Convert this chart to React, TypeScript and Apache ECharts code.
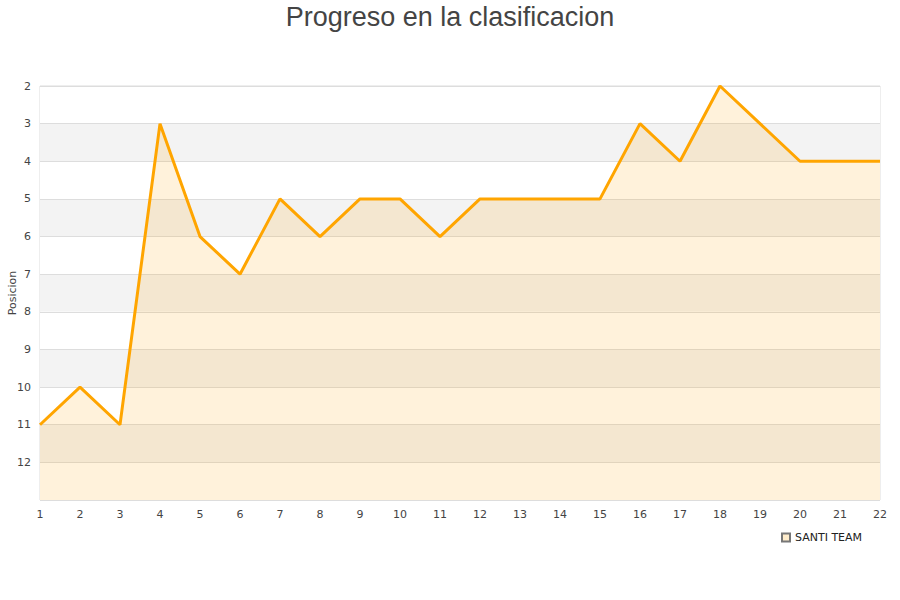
import React, { useEffect, useRef } from "react";
import * as echarts from "echarts";

const jornadas = ["1","2","3","4","5","6","7","8","9","10","11","12","13","14","15","16","17","18","19","20","21","22"];
const posiciones = [11, 10, 11, 3, 6, 7, 5, 6, 5, 5, 6, 5, 5, 5, 5, 3, 4, 2, 3, 4, 4, 4];
const teamName = "SANTI TEAM";
const titleText = "Progreso en la clasificacion";
const yName = "Posicion";

export default function App() {
  const ref = useRef<HTMLDivElement>(null);
  useEffect(() => {
    if (!ref.current) return;
    const chart = echarts.init(ref.current, null, { renderer: "svg" });
    chart.setOption({
      animation: false,
      backgroundColor: "#ffffff",
      title: {
        text: titleText,
        left: "center",
        top: -2,
        textStyle: { fontFamily: "Liberation Sans", fontSize: 27, fontWeight: "normal", color: "#444444" },
      },
      legend: {
        data: [{ name: teamName, icon: "rect" }],
        left: 776,
        top: 527,
        itemWidth: 8,
        itemHeight: 8,
        itemGap: 6,
        textStyle: { fontFamily: "DejaVu Sans", fontSize: 11, color: "#222222" },
      },
      grid: { left: 40, right: 20, top: 86, bottom: 100, containLabel: false, outerBoundsMode: "none", show: true, borderColor: "#dddddd", borderWidth: 1 },
      xAxis: {
        type: "category",
        data: jornadas,
        boundaryGap: false,
        axisLine: { show: false },
        axisTick: { show: false },
        axisLabel: { fontFamily: "DejaVu Sans", fontSize: 11, color: "#444444", margin: 9 },
        splitLine: { show: false },
      },
      yAxis: {
        type: "value",
        inverse: true,
        min: 2,
        max: 13,
        interval: 1,
        name: yName,
        nameLocation: "middle",
        nameGap: 22,
        nameMoveOverlap: false,
        nameTextStyle: { fontFamily: "DejaVu Sans", fontSize: 11, color: "#444444" },
        axisLine: { show: false },
        axisTick: { show: false },
        axisLabel: {
          fontFamily: "DejaVu Sans",
          fontSize: 11,
          color: "#444444",
          margin: 9,
          formatter: (v: number) => (v === 13 ? "" : String(v)),
        },
        splitLine: { show: true, lineStyle: { color: "#dddddd", width: 1 } },
        splitArea: { show: true, areaStyle: { color: ["#ffffff", "#f3f3f3"] } },
      },
      series: [
        {
          name: teamName,
          type: "line",
          data: posiciones,
          showSymbol: false,
          symbol: "none",
          lineStyle: { color: "#FFA500", width: 3 },
          itemStyle: { color: "#FFEDCC", borderColor: "#777777", borderWidth: 1 },
          areaStyle: { color: "rgba(255,165,0,0.2)", origin: "end" },
        },
      ],
    });
    return () => chart.dispose();
  }, []);
  return <div ref={ref} style={{ position: "fixed", left: 0, top: 0, width: 900, height: 600 }} />;
}
